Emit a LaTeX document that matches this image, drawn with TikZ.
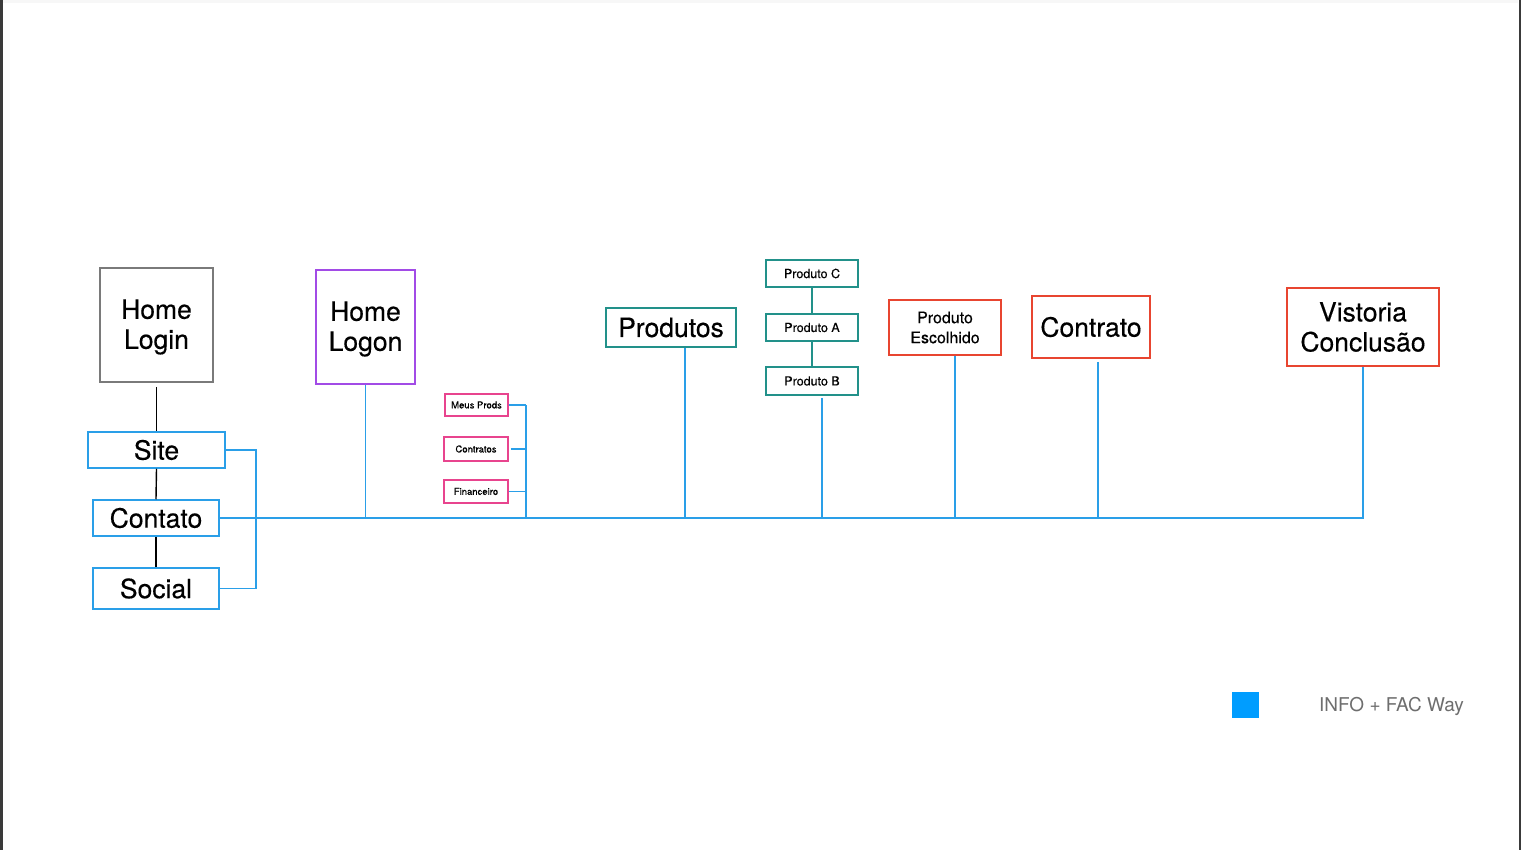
\documentclass[tikz,border=0pt]{standalone}
\usepackage{fontspec}
\setmainfont[FakeBold=0.35]{TeX Gyre Heros}
\definecolor{lblue}{HTML}{2A9FE8}
\definecolor{lgray}{HTML}{7A7A7A}
\definecolor{lpurple}{HTML}{A24BE6}
\definecolor{lpink}{HTML}{E8448E}
\definecolor{lteal}{HTML}{22918A}
\definecolor{lred}{HTML}{E84530}
\definecolor{lsq}{HTML}{009DFF}
\definecolor{ledge}{HTML}{3A3A3A}
\newfontfamily\lightfont{TeX Gyre Heros}
\begin{document}
\begin{tikzpicture}[x=1pt,y=-1pt,
  box/.style={draw,line width=1.5pt,inner sep=0pt,align=center,text=black},
  big/.style={font=\fontsize{26.5}{30}\selectfont},
  mid/.style={font=\fontsize{16}{20}\selectfont},
  small/.style={font=\fontsize{12.5}{15}\selectfont},
  tiny/.style={font=\fontsize{9.5}{11}\selectfont},
  bl/.style={draw=lblue,line width=1.6pt},
  pk/.style={draw=lblue,line width=1.3pt},
  blk/.style={draw=black,line width=1.4pt}]
\useasboundingbox (0,0) rectangle (1521,850);
\fill[white] (0,0) rectangle (1521,850);
\fill[gray!6] (3,0) rectangle (1518,3);
\fill[ledge] (0,0) rectangle (2.5,850);
\fill[ledge] (1518.5,0) rectangle (1521,850);

% left column
\node[box,draw=lgray,minimum width=113pt,minimum height=114pt] (login) at (156.5,325) {};
\node[big,align=center,inner sep=0pt] (logintxt) at (156.5,327) {Home\\Login};
\node[box,draw=lblue,big,minimum width=137pt,minimum height=36pt] (site) at (156.5,450) {\raisebox{-2pt}{Site}};
\node[box,draw=lblue,big,minimum width=126pt,minimum height=36pt] (contato) at (156,518) {\raisebox{-1pt}{Contato}};
\node[box,draw=lblue,big,minimum width=126pt,minimum height=41pt] (social) at (156,588.5) {Social};

\draw[blk,shorten <=4pt] (login.south) -- (site.north);
\draw[blk] (site.south) -- (contato.north);
\draw[blk] (contato.south) -- (social.north);

\coordinate (brk) at (256,450);
\draw[bl] (site.east) -- (site.east -| brk) |- (social.east);

% logon
\node[box,draw=lpurple,minimum width=99pt,minimum height=114pt] (logon) at (365.5,327) {};
\node[big,align=center,inner sep=0pt] (logontxt) at (365.5,329) {Home\\Logon};

% pink
\node[box,draw=lpink,tiny,minimum width=63pt,minimum height=22pt] (meus) at (476.5,405) {Meus Prods};
\node[box,draw=lpink,tiny,minimum width=64pt,minimum height=24pt] (contratos) at (476,449) {Contratos};
\node[box,draw=lpink,tiny,minimum width=64pt,minimum height=23pt] (fin) at (476,491.5) {Financeiro};
\coordinate (pbrk) at (526,405);

% teal
\node[box,draw=lteal,big,minimum width=130pt,minimum height=39pt] (produtos) at (671,327.5) {\raisebox{-1pt}{Produtos}};
\node[box,draw=lteal,small,minimum width=92pt,minimum height=27pt] (pc) at (812,273.5) {Produto C};
\node[box,draw=lteal,small,minimum width=92pt,minimum height=27pt] (pa) at (812,327.5) {Produto A};
\node[box,draw=lteal,small,minimum width=92pt,minimum height=28pt] (pb) at (812,381) {Produto B};
\draw[draw=lteal,line width=1.5pt] (pc.south) -- (pa.north);
\draw[draw=lteal,line width=1.5pt] (pa.south) -- (pb.north);

% red
\node[box,draw=lred,mid,minimum width=112pt,minimum height=55pt] (esc) at (945,327.5) {Produto\\Escolhido};
\node[box,draw=lred,big,minimum width=118pt,minimum height=62pt] (contrato) at (1091,327) {\raisebox{-1pt}{Contrato}};
\node[box,draw=lred,big,minimum width=152pt,minimum height=78pt] (vist) at (1363,327) {Vistoria\\Conclusão};

% main line
\coordinate (main) at (contato.east);
\draw[bl] (contato.east) -- (vist.south |- main) -- (vist.south);
\draw[bl] (logon.south) -- (logon.south |- main);
\draw[pk] (meus.east) -- (meus.east -| pbrk);
\draw[pk,shorten <=2pt] (contratos.east) -- (contratos.east -| pbrk);
\draw[pk] (fin.east) -- (fin.east -| pbrk);
\draw[bl] (pbrk) -- (pbrk |- main);
\draw[bl] ([xshift=14pt]produtos.south) -- ([xshift=14pt]produtos.south |- main);
\draw[bl,shorten <=2pt] ([xshift=10pt]pb.south) -- ([xshift=10pt]pb.south |- main);
\draw[bl] ([xshift=10pt]esc.south) -- ([xshift=10pt]esc.south |- main);
\draw[bl,shorten <=3pt] ([xshift=7pt]contrato.south) -- ([xshift=7pt]contrato.south |- main);

% legend
\fill[lsq] (1232,692) rectangle (1259,718);
\node[text=lgray!90!black,font=\lightfont\fontsize{19}{22}\selectfont,anchor=west,inner sep=0pt] (info) at (1319,706) {INFO + FAC Way};
\end{tikzpicture}
\end{document}
